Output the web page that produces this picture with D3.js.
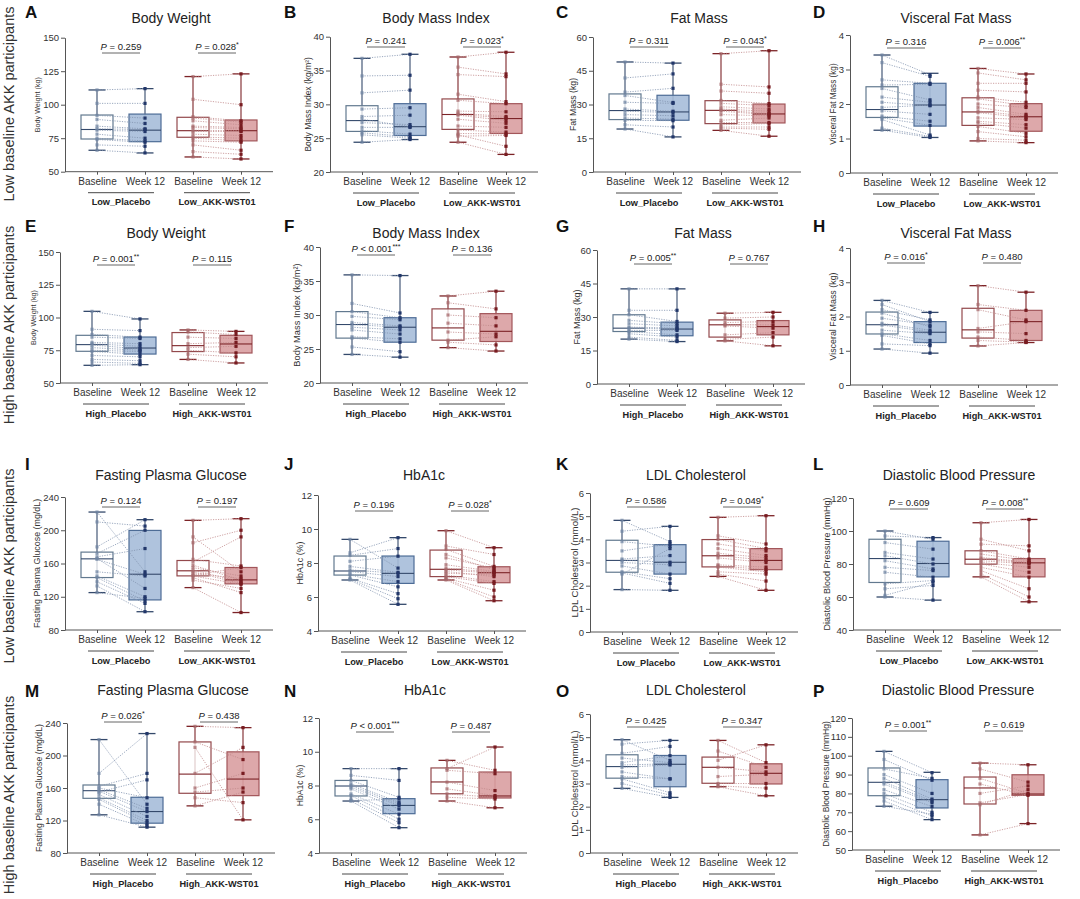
<!DOCTYPE html>
<html>
<head>
<meta charset="utf-8">
<script src="https://cdn.jsdelivr.net/npm/d3@7"></script>
<style>
  body { margin: 0; background: #fff; }
  svg { font-family: "Liberation Sans", Arial, sans-serif; }
</style>
</head>
<body>
<svg id="fig" width="1080" height="899"></svg>
<script>
// ---- data ----
var categories = ["Baseline", "Week 12", "Baseline", "Week 12"];
var rowLabels = ["Low baseline AKK participants", "High baseline AKK participants",
                 "Low baseline AKK participants", "High baseline AKK participants"];
var groupLabels = [["Low_Placebo", "Low_AKK-WST01"], ["High_Placebo", "High_AKK-WST01"],
                   ["Low_Placebo", "Low_AKK-WST01"], ["High_Placebo", "High_AKK-WST01"]];
var panelLetters = "ABCDEFGHIJKLMNOP".split("");
var panelTitles = ["Body Weight", "Body Mass Index", "Fat Mass", "Visceral Fat Mass",
                   "Body Weight", "Body Mass Index", "Fat Mass", "Visceral Fat Mass",
                   "Fasting Plasma Glucose", "HbA1c", "LDL Cholesterol", "Diastolic Blood Pressure",
                   "Fasting Plasma Glucose", "HbA1c", "LDL Cholesterol", "Diastolic Blood Pressure"];
var yLabels = ["Body Weight (kg)", "Body Mass Index (kg/m\u00b2)", "Fat Mass (kg)", "Visceral Fat Mass (kg)",
               "Body Weight (kg)", "Body Mass Index (kg/m\u00b2)", "Fat Mass (kg)", "Visceral Fat Mass (kg)",
               "Fasting Plasma Glucose (mg/dL)", "HbA1c (%)", "LDL Cholesterol (mmol/L)", "Diastolic Blood Pressure (mmHg)",
               "Fasting Plasma Glucose (mg/dL)", "HbA1c (%)", "LDL Cholesterol (mmol/L)", "Diastolic Blood Pressure (mmHg)"];
var yTicks = [
  [50, 75, 100, 125, 150], [20, 25, 30, 35, 40], [0, 15, 30, 45, 60], [0, 1, 2, 3, 4],
  [50, 75, 100, 125, 150], [20, 25, 30, 35, 40], [0, 15, 30, 45, 60], [0, 1, 2, 3, 4],
  [80, 120, 160, 200, 240], [4, 6, 8, 10, 12], [0, 1, 2, 3, 4, 5, 6], [40, 60, 80, 100, 120],
  [80, 120, 160, 200, 240], [4, 6, 8, 10, 12], [0, 1, 2, 3, 4, 5, 6], [50, 60, 70, 80, 90, 100, 110, 120]
];
var pPlacebo = ["= 0.259", "= 0.241", "= 0.311", "= 0.316",
                "= 0.001**", "< 0.001***", "= 0.005**", "= 0.016*",
                "= 0.124", "= 0.196", "= 0.586", "= 0.609",
                "= 0.026*", "< 0.001***", "= 0.425", "= 0.001**"];
var pAkk = ["= 0.028*", "= 0.023*", "= 0.043*", "= 0.006**",
            "= 0.115", "= 0.136", "= 0.767", "= 0.480",
            "= 0.197", "= 0.028*", "= 0.049*", "= 0.008**",
            "= 0.438", "= 0.487", "= 0.347", "= 0.619"];

// [min, q1, median, q3, max] for Placebo baseline, Placebo wk12, AKK baseline, AKK wk12
var boxStats = [
  [[66, 74.4, 81.5, 92.3, 111], [64, 72.4, 81, 93, 112], [61, 75.7, 80.6, 90.6, 121], [59.5, 73, 80.6, 88.6, 123]],
  [[24.4, 26, 27.6, 29.8, 36.8], [24.8, 25.4, 26.7, 30.1, 37.4], [24.4, 26.3, 28.5, 30.8, 37], [22.6, 25.7, 27.9, 30.1, 37.7]],
  [[19.1, 23.3, 27.3, 34.7, 48.9], [15.6, 23, 26.7, 34.1, 48.4], [18.5, 21.5, 27.4, 31.7, 52.6], [15.9, 21.8, 25.8, 30.2, 53.9]],
  [[1.24, 1.61, 1.84, 2.5, 3.42], [1.03, 1.36, 1.97, 2.6, 2.89], [0.93, 1.38, 1.77, 2.18, 3.03], [0.88, 1.21, 1.63, 2.01, 2.87]],
  [[63.5, 74.2, 79.3, 86.4, 104.7], [64, 72.1, 76.7, 85.1, 98.9], [68, 74, 78.5, 88.5, 90.5], [65.3, 72.9, 79.8, 86.4, 89.4]],
  [[24.2, 26.6, 28.6, 30.5, 35.9], [23.8, 26, 28.2, 29.6, 35.8], [25.2, 26.3, 28.1, 30.9, 32.8], [24.7, 26.1, 27.6, 30.2, 33.5]],
  [[20.1, 23.5, 25, 31, 42.6], [19, 21.6, 24.6, 27.7, 42.6], [19.3, 21, 26.5, 28.7, 31.7], [17.1, 22, 25.7, 28.4, 32.1]],
  [[1.05, 1.49, 1.76, 2.13, 2.47], [0.93, 1.24, 1.54, 1.85, 2.12], [1.14, 1.37, 1.61, 2.24, 2.9], [1.24, 1.3, 1.85, 2.18, 2.71]],
  [[125, 143.1, 165.6, 173.7, 221.9], [102, 116.2, 147.1, 199.8, 212.7], [131, 145.1, 151.2, 163.6, 211.9], [101, 135.5, 140.3, 155.2, 213.9]],
  [[7.0, 7.29, 7.53, 8.41, 9.39], [5.57, 6.8, 7.39, 8.41, 9.49], [7.0, 7.2, 7.63, 8.76, 9.9], [5.78, 6.84, 7.43, 7.78, 8.9]],
  [[1.83, 2.58, 3.09, 3.96, 4.82], [1.8, 2.5, 3.01, 3.77, 4.56], [2.4, 2.81, 3.29, 3.99, 4.95], [1.8, 2.69, 3.09, 3.6, 5.02]],
  [[60, 68.8, 83.3, 95, 100], [58.1, 72.2, 80.3, 93.8, 96], [72.2, 79.9, 82.9, 88, 105], [57.1, 72.2, 80.7, 83.3, 107]],
  [[127, 147.3, 156.7, 163.7, 219.6], [111.8, 116.7, 131, 148.6, 227], [138, 153.5, 177.1, 216.7, 235.9], [120.8, 150.6, 171, 204.5, 234.3]],
  [[7.08, 7.38, 7.97, 8.3, 9.0], [5.5, 6.33, 6.82, 7.22, 9.0], [7.08, 7.51, 8.21, 9.04, 9.49], [6.68, 7.26, 7.38, 8.8, 10.28]],
  [[2.79, 3.23, 3.73, 4.24, 4.89], [2.4, 2.86, 3.83, 4.21, 4.86], [2.86, 3.01, 3.7, 4.14, 4.86], [2.47, 2.98, 3.44, 3.85, 4.67]],
  [[73.2, 78.8, 85.9, 93.5, 102.3], [66.1, 72.3, 76.7, 87.3, 91.2], [58, 74.4, 82.9, 88.7, 96.1], [64, 79, 79.7, 89.9, 95.2]]
];

// paired participants: [baseline, week 12]
var placeboPairs = [
  [[111, 112], [101, 101], [92, 90], [89, 86], [84, 82], [82, 81.5], [81, 80], [78, 75], [75, 73], [74, 72], [70, 69], [66, 64]],
  [[36.8, 37.4], [34.2, 34.3], [31.7, 32.1], [29.3, 29.5], [28.2, 28.4], [27.8, 26.7], [27.3, 27], [26.6, 26.6], [26.1, 25.6], [25.8, 25.2], [25.5, 25], [24.4, 24.8]],
  [[48.9, 48.4], [41.8, 43.6], [35.5, 37.2], [34, 30.9], [31, 30.5], [28, 27], [27, 26.5], [25.5, 25], [24, 23.5], [23, 22.8], [21, 20], [19.1, 15.6]],
  [[3.42, 2.85], [3.2, 2.8], [2.7, 2.6], [2.55, 2.57], [2.45, 2.12], [2.2, 2.05], [2.05, 1.95], [1.9, 1.97], [1.8, 1.7], [1.65, 1.5], [1.6, 1.38], [1.55, 1.1], [1.3, 1.06], [1.24, 1.03]],
  [[104.7, 98.9], [91, 90], [87, 85], [85, 84], [81, 80], [80, 78], [79, 76], [77, 75], [75, 74], [74, 72], [71, 70], [68, 67], [66, 65], [63.5, 64]],
  [[35.9, 35.8], [31.7, 30.3], [30.5, 29.6], [29.8, 29.3], [28.9, 28.4], [28.6, 28.2], [28.2, 27.8], [27.8, 27.2], [26.8, 26.5], [26.6, 26], [25.3, 24.6], [24.2, 23.8]],
  [[42.6, 42.6], [33, 33], [31, 28], [28.5, 27], [27, 26], [25.5, 25], [25, 24.6], [24, 24], [23.5, 22], [22.5, 21], [21, 19.5], [20.1, 19]],
  [[2.47, 2.12], [2.35, 1.85], [2.2, 1.9], [2.1, 1.7], [1.95, 1.75], [1.8, 1.6], [1.75, 1.55], [1.6, 1.5], [1.5, 1.3], [1.45, 1.2], [1.2, 1.15], [1.05, 0.93]],
  [[221.9, 150], [210, 205], [180, 212.7], [172, 200], [168, 178], [166, 130], [165, 147], [150, 145], [145, 120], [143, 115], [138, 112], [133, 102], [125, 118]],
  [[9.39, 7.7], [8.6, 9.49], [8.45, 8.85], [8.1, 8.4], [7.8, 7.45], [7.6, 7.39], [7.5, 7.2], [7.35, 6.9], [7.3, 6.6], [7.1, 6.2], [7.05, 5.9], [7.0, 5.57]],
  [[4.82, 3.9], [4.35, 4.56], [3.9, 3.7], [3.5, 3.8], [3.15, 3.3], [3.1, 3.01], [3.0, 2.9], [2.85, 2.5], [2.6, 2.3], [2.55, 2.1], [2.5, 3.6], [1.83, 1.8]],
  [[100, 95], [97, 96], [93, 89], [87, 83], [85, 80], [82, 77], [78, 76], [75, 72], [68, 70], [65, 67], [61, 69], [60, 58.1]],
  [[219.6, 140], [178, 227], [162, 178], [160, 148], [158, 135], [156, 131], [155, 170], [152, 125], [148, 120], [146, 117], [140, 114], [127, 111.8]],
  [[9.0, 9.0], [8.6, 8.3], [8.3, 7.3], [8.1, 7.0], [8.0, 6.9], [7.9, 6.8], [7.8, 6.6], [7.5, 6.3], [7.4, 6.0], [7.2, 5.8], [7.1, 7.2], [7.08, 5.5]],
  [[4.89, 4.0], [4.7, 4.86], [4.3, 4.6], [4.1, 3.9], [3.9, 4.2], [3.8, 3.85], [3.7, 3.8], [3.5, 3.2], [3.3, 3.2], [3.2, 2.6], [3.0, 2.5], [2.79, 2.4]],
  [[102.3, 91], [98, 87], [93, 88], [90, 80], [88, 77], [86, 76], [85, 75], [82, 73], [80, 70], [78, 68], [76, 66.1], [73.2, 69]]
];
var akkPairs = [
  [[121, 123], [104, 100], [91, 88], [90, 87], [88, 85], [84, 83], [83, 82], [81, 80.5], [80, 80], [78, 77], [76, 75], [75, 73], [73, 72], [70, 66], [65, 63], [61, 59.5]],
  [[37, 37.7], [35.5, 34.5], [34.4, 34.1], [31.5, 30.4], [30.6, 30.1], [29, 28.9], [28.7, 28.2], [28.5, 28], [28.4, 27.6], [27.8, 27.2], [26.8, 26.6], [26.2, 25.9], [25.7, 25.6], [25.3, 25.4], [25.5, 23.8], [24.4, 22.6]],
  [[52.6, 53.9], [39, 37.8], [36, 35], [31.8, 30.4], [30.5, 29.5], [29, 28], [28, 27], [27.5, 26], [27, 25.5], [25.5, 25], [23, 24], [22, 22], [21, 21.5], [20, 20], [19.5, 19], [18.5, 15.9]],
  [[3.03, 2.87], [2.9, 2.7], [2.6, 2.6], [2.4, 2.35], [2.2, 2.05], [2.15, 1.95], [2.0, 1.9], [1.9, 1.7], [1.8, 1.65], [1.75, 1.6], [1.6, 1.55], [1.5, 1.4], [1.45, 1.3], [1.35, 1.15], [1.2, 1.05], [1.0, 0.95], [0.93, 0.88]],
  [[90.5, 89.4], [89, 87], [85, 84], [80, 81], [77, 78], [75, 73], [72, 70], [68, 65.3]],
  [[32.8, 33.5], [31.8, 30.9], [30, 29.6], [28.8, 28.4], [27.5, 27.2], [26.3, 26.8], [26, 25.6], [25.2, 24.7]],
  [[31.7, 32.1], [29.5, 30], [27.5, 28], [26.5, 26.5], [26, 25], [22, 23], [20, 21], [19.3, 17.1]],
  [[2.9, 2.71], [2.35, 2.18], [2.2, 1.9], [1.65, 1.85], [1.55, 1.5], [1.4, 1.3], [1.3, 1.25], [1.14, 1.24]],
  [[211.9, 213.9], [192, 150], [185, 200], [165, 157], [162, 192], [158, 140], [155, 145], [152, 138], [150, 136], [148, 142], [146, 155], [145, 135], [143, 125], [140, 130], [131, 101]],
  [[9.9, 8.9], [9.0, 8.5], [8.8, 7.8], [8.5, 7.6], [8.3, 7.7], [7.9, 7.5], [7.7, 7.45], [7.6, 7.4], [7.5, 7.2], [7.4, 7.3], [7.3, 6.9], [7.2, 6.8], [7.1, 6.4], [7.05, 6.0], [7.0, 5.78]],
  [[4.95, 5.02], [4.15, 3.8], [4.0, 3.6], [3.8, 3.5], [3.6, 3.3], [3.4, 3.2], [3.3, 3.1], [3.2, 3.0], [2.9, 2.8], [2.85, 2.7], [2.8, 2.6], [2.6, 2.5], [2.5, 2.2], [2.4, 1.8]],
  [[105, 107], [95, 88], [92, 91], [88, 83], [86, 82], [84, 81], [83, 80.7], [82, 80], [81, 78], [80, 75], [78, 72], [76, 65], [74, 60], [72.2, 57.1]],
  [[235.9, 234.3], [216.7, 195], [210, 120.8], [178, 210], [160, 178], [155, 160], [148, 142], [138, 155]],
  [[9.49, 8.9], [9.0, 10.28], [8.9, 8.7], [8.2, 7.7], [7.8, 7.4], [7.5, 7.3], [7.3, 7.2], [7.08, 6.68]],
  [[4.86, 3.9], [4.4, 3.7], [4.0, 4.67], [3.7, 3.5], [3.3, 3.4], [3.0, 3.0], [2.9, 2.8], [2.86, 2.47]],
  [[96.1, 95.2], [93, 86], [88, 80], [85, 79], [80, 84], [75, 79.5], [74, 82], [58, 64]]
];

// ---- layout (pixels) ----
var axisX    = [65, 330, 593, 850,  60, 320, 597, 850,  65, 318, 590, 853,  67, 319, 590, 852];
var topY     = [37.7, 36.7, 37, 35,  252, 247, 250, 248,  497, 495, 493, 498,  723, 718, 714, 718];
var bottomY  = [171.7, 172, 172, 173,  383, 383, 384, 385,  630, 631, 632, 630,  853, 853, 853, 850];
var bracketY = [53, 47, 47, 48,  265, 255, 264, 263,  507, 511, 507, 509,  722, 732, 727, 731];
var yTitleOff  = [28, 22, 20, 17,  27, 23, 20, 17,  28, 18, 15, 26,  28, 19, 15, 26];
var yTitleSize = [7.2, 8.5, 8.7, 8.2,  7.2, 9.3, 9, 8.9,  8.9, 8.9, 9.7, 9,  8.8, 8.6, 9.4, 8.5];
var letterX  = [25, 284, 556, 813];
var letterY  = [18, 232, 470, 697];
var titleY   = [23, 238, 480, 695];
var rowLabelY = [104, 325, 566, 795];

var palette = [
  { whisker: "#34496b", baseStroke: "#62798f", weekStroke: "#4d6c96", fill: "#a6bcd9",
    basePt: "#6f84a3", weekPt: "#22376a", link: "#8193af" },
  { whisker: "#7c2327", baseStroke: "#93494c", weekStroke: "#a2565a", fill: "#d99fa1",
    basePt: "#a5686b", weekPt: "#781c21", link: "#c28a8c" }
];

var svg = d3.select("#fig");

function pLabel(sel, str) {
  var m = str.match(/^(.*?)(\**)$/);
  sel.append("tspan").attr("font-style", "italic").text("P");
  sel.append("tspan").text(" " + m[1]);
  if (m[2]) sel.append("tspan").attr("font-size", 7).attr("dy", -3).text(m[2]);
}

function drawPanel(i) {
  var row = Math.floor(i / 4), col = i % 4;
  var ax = axisX[i];
  var g = svg.append("g").attr("class", "panel");

  var y = d3.scaleLinear()
    .domain(d3.extent(yTicks[i]))
    .range([bottomY[i], topY[i]]);
  var x = d3.scalePoint()
    .domain(d3.range(4))
    .range([ax + 8, ax + 200])
    .padding(0.5);

  // letter + title
  g.append("text").attr("x", letterX[col]).attr("y", letterY[row])
    .attr("font-size", 17).attr("font-weight", "bold").attr("fill", "#111")
    .text(panelLetters[i]);
  g.append("text").attr("x", ax + 106).attr("y", titleY[row])
    .attr("text-anchor", "middle").attr("font-size", 14).attr("fill", "#222")
    .text(panelTitles[i]);

  // y axis
  var ya = g.append("g").attr("transform", "translate(" + ax + ",0)")
    .call(d3.axisLeft(y).tickValues(yTicks[i]).tickFormat(d3.format("d"))
      .tickSize(4).tickSizeOuter(0).tickPadding(2));
  ya.attr("font-family", null);
  ya.selectAll("text").attr("font-size", 9.5).attr("fill", "#333");
  ya.selectAll("line, path").attr("stroke", "#555");

  g.append("text")
    .attr("transform", "translate(" + (ax - yTitleOff[i]) + "," + ((topY[i] + bottomY[i]) / 2) + ") rotate(-90)")
    .attr("text-anchor", "middle").attr("dy", "0.35em")
    .attr("font-size", yTitleSize[i]).attr("fill", "#333")
    .text(yLabels[i]);

  // x axis
  var xa = g.append("g").attr("transform", "translate(0," + bottomY[i] + ")")
    .call(d3.axisBottom(x).tickSize(3).tickPadding(3).tickFormat(function(k) { return categories[k]; }));
  xa.attr("font-family", null);
  xa.select(".domain").remove();
  xa.selectAll("text").attr("font-size", 10).attr("fill", "#333");
  xa.selectAll("line").attr("stroke", "#555");
  xa.append("line").attr("x1", ax).attr("x2", ax + 208).attr("stroke", "#555");

  // groups
  [placeboPairs[i], akkPairs[i]].forEach(function(pairs, gi) {
    var c = palette[gi];
    var kB = gi * 2, kW = gi * 2 + 1;
    var xB = x(kB), xW = x(kW);

    // whiskers, boxes
    [kB, kW].forEach(function(k) {
      var s = boxStats[i][k], cx = x(k), isWeek = k % 2 === 1;
      var wg = g.append("g");
      wg.append("line").attr("x1", cx).attr("x2", cx).attr("y1", y(s[0])).attr("y2", y(s[4]))
        .attr("stroke", c.whisker).attr("stroke-width", 1.1);
      [s[0], s[4]].forEach(function(v) {
        wg.append("line").attr("x1", cx - 8.5).attr("x2", cx + 8.5).attr("y1", y(v)).attr("y2", y(v))
          .attr("stroke", c.whisker).attr("stroke-width", 1.3);
      });
      wg.append("rect").attr("x", cx - 16).attr("width", 32)
        .attr("y", y(s[3])).attr("height", y(s[1]) - y(s[3]))
        .attr("fill", isWeek ? c.fill : "#fff").attr("fill-opacity", isWeek ? 0.9 : 0.75)
        .attr("stroke", isWeek ? c.weekStroke : c.baseStroke).attr("stroke-width", 1.2);
      wg.append("line").attr("x1", cx - 16).attr("x2", cx + 16).attr("y1", y(s[2])).attr("y2", y(s[2]))
        .attr("stroke", c.whisker).attr("stroke-width", 1.1);
    });

    // paired dotted links
    g.append("g").selectAll("line").data(pairs).join("line")
      .attr("x1", xB).attr("x2", xW)
      .attr("y1", function(d) { return y(d[0]); })
      .attr("y2", function(d) { return y(d[1]); })
      .attr("stroke", c.link).attr("stroke-width", 0.8)
      .attr("stroke-dasharray", "1.2,1.3");

    // points
    g.append("g").selectAll("rect").data(pairs).join("rect")
      .attr("x", xB - 1.6).attr("width", 3.2).attr("height", 3.2)
      .attr("y", function(d) { return y(d[0]) - 1.6; })
      .attr("fill", c.basePt).attr("fill-opacity", 0.7);
    g.append("g").selectAll("rect").data(pairs).join("rect")
      .attr("x", xW - 1.6).attr("width", 3.2).attr("height", 3.2)
      .attr("y", function(d) { return y(d[1]) - 1.6; })
      .attr("fill", c.weekPt);

    // P value bracket
    var mid = (xB + xW) / 2;
    g.append("line").attr("x1", mid - 19).attr("x2", mid + 19)
      .attr("y1", bracketY[i]).attr("y2", bracketY[i])
      .attr("stroke", "#555").attr("stroke-width", 0.9);
    g.append("text").attr("x", mid).attr("y", bracketY[i] - 3.5)
      .attr("text-anchor", "middle").attr("font-size", 9.5).attr("fill", "#222")
      .call(pLabel, gi === 0 ? pPlacebo[i] : pAkk[i]);

    // group underline + label
    g.append("line").attr("x1", mid - 33).attr("x2", mid + 33)
      .attr("y1", bottomY[i] + 21).attr("y2", bottomY[i] + 21)
      .attr("stroke", "#333").attr("stroke-width", 0.9);
    g.append("text").attr("x", mid).attr("y", bottomY[i] + 33.5)
      .attr("text-anchor", "middle").attr("font-size", 9.2).attr("font-weight", "bold").attr("fill", "#222")
      .text(groupLabels[row][gi]);
  });
}

rowLabels.forEach(function(lbl, r) {
  svg.append("text")
    .attr("transform", "translate(14," + rowLabelY[r] + ") rotate(-90)")
    .attr("text-anchor", "middle").attr("font-size", 14.5).attr("fill", "#333")
    .text(lbl);
});

d3.range(16).forEach(drawPanel);
</script>
</body>
</html>
